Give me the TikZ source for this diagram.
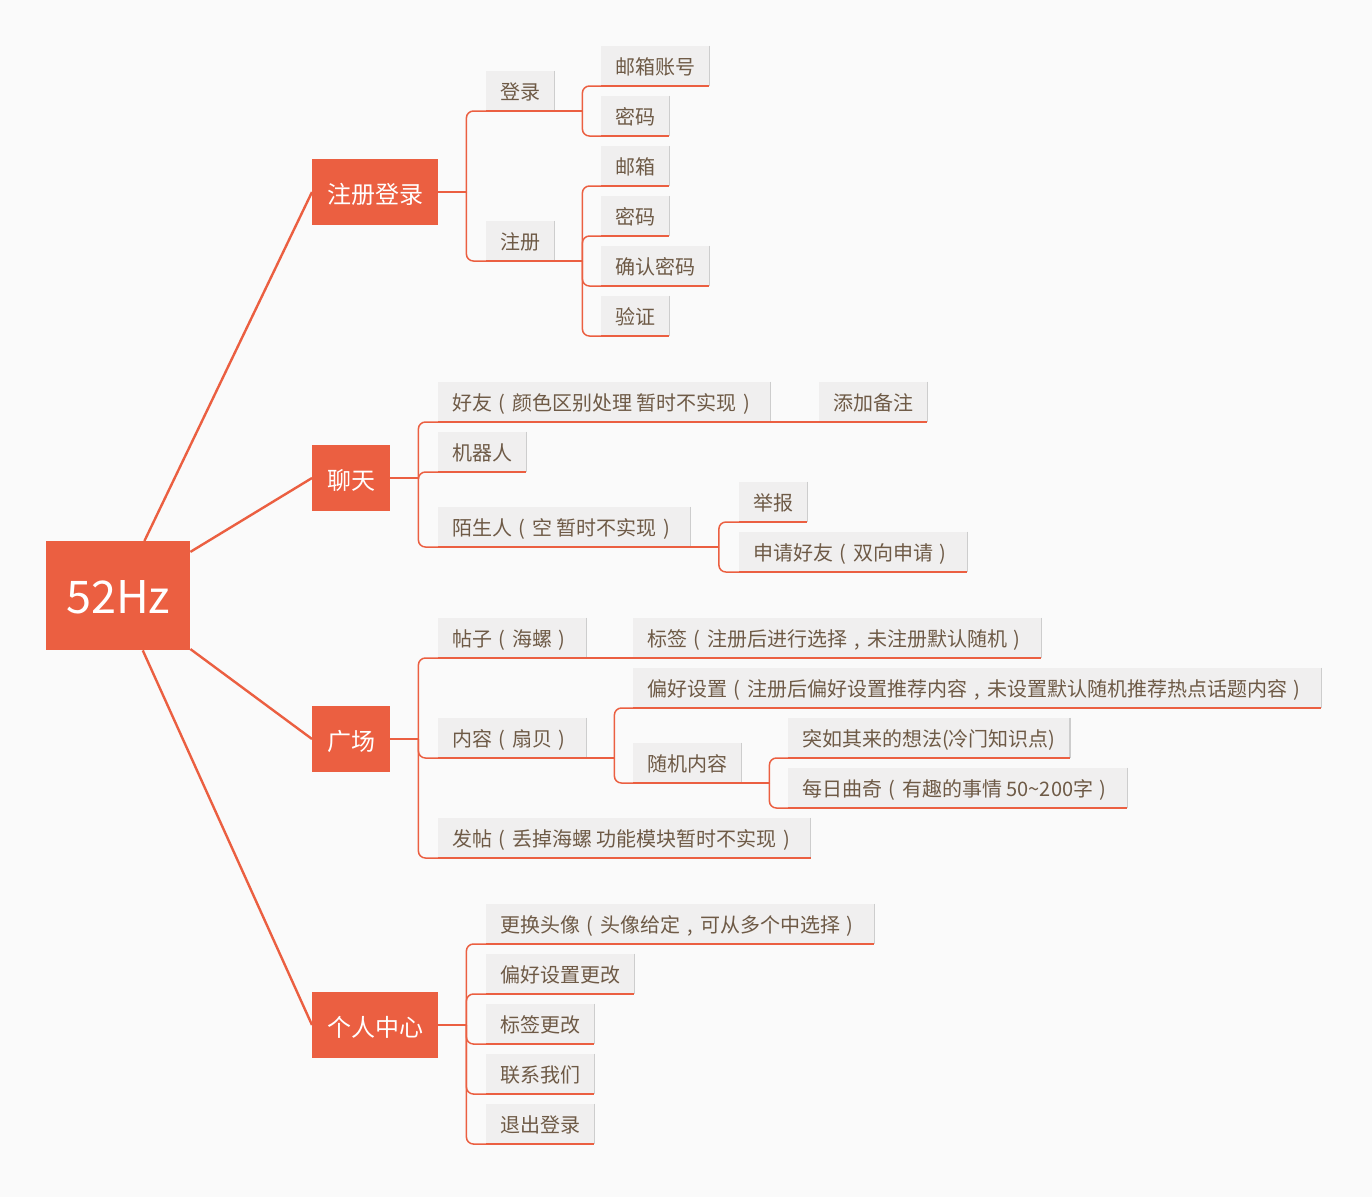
\documentclass[tikz,border=0pt]{standalone}
\usepackage{fontspec}
\setmainfont{Noto Sans CJK SC}
\definecolor{bg}{RGB}{250,250,250}
\definecolor{org}{RGB}{235,95,65}
\definecolor{leaffill}{RGB}{240,239,239}
\definecolor{txt}{RGB}{110,90,70}
\definecolor{edgegray}{RGB}{205,205,205}
\newcommand{\lpar}{\makebox[1em]{(}}
\newcommand{\rpar}{\makebox[1em]{)}}
\newcommand{\fcomma}{\makebox[1em]{,}}
\tikzset{
  leaf/.style={fill=leaffill, text=txt, font=\fontsize{20}{22}\selectfont,
    inner xsep=14pt, inner ysep=0pt, minimum height=40pt, anchor=south west,
    text height=18.5pt, text depth=2pt,
    append after command={(\tikzlastnode.north east) edge[draw=edgegray,line width=1.2pt] (\tikzlastnode.south east)
      (\tikzlastnode.south west) edge[draw=org,line width=1.5pt] (\tikzlastnode.south east)}},
  topic/.style={fill=org, text=white, font=\fontsize{24}{26}\selectfont,
    inner xsep=15pt, minimum height=66pt, anchor=west, text height=24pt, text depth=2pt},
  conn/.style={draw=org, line width=1.5pt, rounded corners=7pt},
  mainln/.style={draw=org, line width=2.4pt},
}
\begin{document}
\begin{tikzpicture}[x=1pt,y=-1pt]
\fill[bg] (0,0) rectangle (1372,1197);
\useasboundingbox (0,0) rectangle (1372,1197);

% root and topics
\node[fill=org, text=white, font=\fontsize{45}{50}\selectfont, minimum width=144pt, minimum height=109pt, inner sep=0pt, text height=35pt, text depth=0pt, anchor=north west] (root) at (46,541) {52Hz};
\node[topic] (zc) at (312,192) {注册登录};
\node[topic] (lt) at (312,478) {聊天};
\node[topic] (gc) at (312,739) {广场};
\node[topic] (gr) at (312,1025) {个人中心};

\draw[mainln] (root) -- (zc.west);
\draw[mainln] (root) -- (lt.west);
\draw[mainln] (root) -- (gc.west);
\draw[mainln] (root) -- (gr.west);

% 注册登录
\node[leaf] (dl) at (486,111) {登录};
\node[leaf] (zc2) at (486,261) {注册};
\node[leaf] (l1) at (601,86) {邮箱账号};
\node[leaf] (l2) at (601,136) {密码};
\node[leaf] (l3) at (601,186) {邮箱};
\node[leaf] (l4) at (601,236) {密码};
\node[leaf] (l5) at (601,286) {确认密码};
\node[leaf] (l6) at (601,336) {验证};

\draw[conn] (zc.east) -- ++(28,0);
\foreach \c in {dl,zc2} \draw[conn] ([xshift=28pt]zc.east) |- (\c.south west);
\draw[conn] (dl.south east) -- ++(28,0);
\foreach \c in {l1,l2} \draw[conn] ([xshift=28pt]dl.south east) |- (\c.south west);
\draw[conn] (zc2.south east) -- ++(28,0);
\foreach \c in {l3,l4,l5,l6} \draw[conn] ([xshift=28pt]zc2.south east) |- (\c.south west);

% 聊天
\node[leaf] (hy) at (438,422) {好友\lpar 颜色区别处理 暂时不实现\rpar};
\node[leaf] (tj) at (819,422) {添加备注};
\node[leaf] (jq) at (438,472) {机器人};
\node[leaf] (msr) at (438,547) {陌生人\lpar 空 暂时不实现\rpar};
\node[leaf] (jb) at (739,522) {举报};
\node[leaf] (sq) at (739,572) {申请好友\lpar 双向申请\rpar};

\draw[conn] (lt.east) -- ++(28,0);
\foreach \c in {hy,jq,msr} \draw[conn] ([xshift=28pt]lt.east) |- (\c.south west);
\draw[conn] (hy.south east) -- (tj.south west);
\draw[conn] (msr.south east) -- ++(28,0);
\foreach \c in {jb,sq} \draw[conn] ([xshift=28pt]msr.south east) |- (\c.south west);

% 广场
\node[leaf] (tz) at (438,658) {帖子\lpar 海螺\rpar};
\node[leaf] (bq) at (633,658) {标签\lpar 注册后进行选择\fcomma 未注册默认随机\rpar};
\node[leaf] (nr) at (438,758) {内容\lpar 扇贝\rpar};
\node[leaf] (ph) at (633,708) {偏好设置\lpar 注册后偏好设置推荐内容\fcomma 未设置默认随机推荐热点话题内容\rpar};
\node[leaf] (sj) at (633,783) {随机内容};
\node[leaf] (tr) at (788,758) {突如其来的想法(冷门知识点)};
\node[leaf] (mr) at (788,808) {每日曲奇\lpar 有趣的事情 50\textasciitilde 200字\rpar};
\node[leaf] (ft) at (438,858) {发帖\lpar 丢掉海螺 功能模块暂时不实现\rpar};

\draw[conn] (gc.east) -- ++(28,0);
\foreach \c in {tz,nr,ft} \draw[conn] ([xshift=28pt]gc.east) |- (\c.south west);
\draw[conn] (tz.south east) -- (bq.south west);
\draw[conn] (nr.south east) -- ++(28,0);
\foreach \c in {ph,sj} \draw[conn] ([xshift=28pt]nr.south east) |- (\c.south west);
\draw[conn] (sj.south east) -- ++(28,0);
\foreach \c in {tr,mr} \draw[conn] ([xshift=28pt]sj.south east) |- (\c.south west);

% 个人中心
\node[leaf] (p1) at (486,944) {更换头像\lpar 头像给定\fcomma 可从多个中选择\rpar};
\node[leaf] (p2) at (486,994) {偏好设置更改};
\node[leaf] (p3) at (486,1044) {标签更改};
\node[leaf] (p4) at (486,1094) {联系我们};
\node[leaf] (p5) at (486,1144) {退出登录};

\draw[conn] (gr.east) -- ++(28,0);
\foreach \c in {p1,p2,p3,p4,p5} \draw[conn] ([xshift=28pt]gr.east) |- (\c.south west);
\end{tikzpicture}
\end{document}
